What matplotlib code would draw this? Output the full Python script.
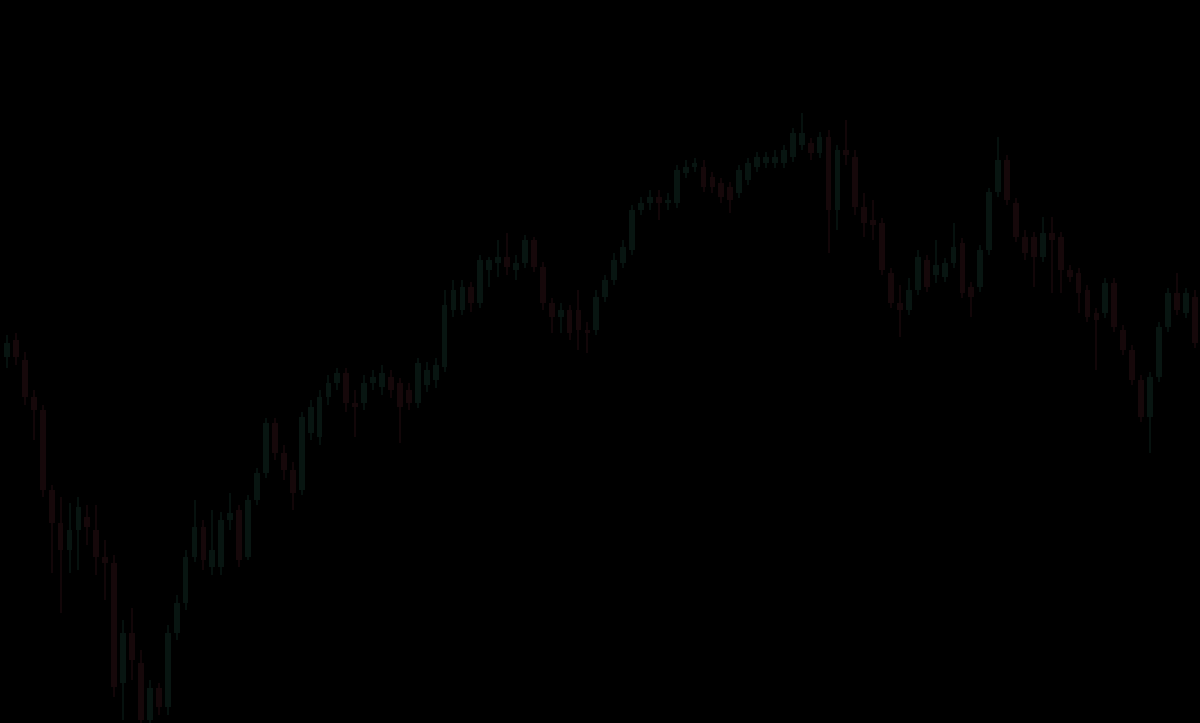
import numpy as np
import matplotlib
matplotlib.use("Agg")
import matplotlib.pyplot as plt

# OHLC series (arbitrary price units), one candle per session
opens = [443, 460, 440, 403, 390, 310, 277, 250, 270, 283, 270, 243, 237, 117, 167, 137, 80, 112, 93, 167,
         197, 243, 273, 233, 233, 280, 290, 243, 300, 327, 377, 347, 330, 310, 367, 363, 403, 417, 427, 397,
         397, 417, 413, 423, 417, 410, 397, 415, 420, 433, 490, 490, 513, 497, 530, 537, 543, 530, 537, 560,
         533, 497, 483, 490, 490, 470, 470, 503, 520, 537, 550, 590, 597, 603, 597, 597, 627, 633, 633, 623,
         617, 613, 607, 620, 633, 637, 637, 637, 643, 655, 657, 647, 663, 590, 650, 643, 593, 580, 577, 527,
         497, 490, 510, 540, 525, 523, 537, 557, 513, 513, 550, 608, 640, 597, 563, 563, 543, 567, 563, 530,
         527, 510, 487, 487, 517, 470, 450, 420, 383, 423, 473, 507, 487, 503]
highs = [465, 467, 448, 410, 395, 315, 303, 297, 303, 295, 295, 260, 245, 180, 192, 150, 120, 117, 175, 205,
         250, 300, 280, 290, 288, 307, 295, 305, 332, 382, 382, 355, 338, 388, 400, 410, 425, 432, 432, 410,
         425, 430, 435, 430, 422, 417, 442, 438, 442, 510, 520, 520, 518, 545, 543, 560, 567, 545, 565, 563,
         538, 502, 497, 495, 510, 478, 510, 525, 547, 560, 595, 603, 610, 610, 607, 635, 640, 642, 640, 628,
         622, 618, 635, 642, 648, 648, 650, 655, 672, 687, 662, 668, 670, 655, 680, 650, 607, 600, 582, 532,
         515, 522, 550, 545, 560, 542, 577, 562, 518, 555, 612, 663, 645, 602, 570, 568, 583, 583, 568, 535,
         532, 515, 492, 522, 522, 475, 455, 425, 428, 478, 512, 527, 512, 510]
lows = [432, 435, 395, 360, 303, 227, 187, 227, 230, 255, 225, 200, 103, 80, 120, 77, 77, 85, 85, 160,
        190, 238, 230, 225, 225, 270, 233, 240, 295, 322, 340, 320, 290, 305, 360, 355, 395, 410, 388, 363,
        390, 410, 405, 402, 357, 390, 392, 408, 412, 428, 483, 485, 488, 492, 513, 523, 525, 520, 532, 528,
        490, 467, 467, 460, 450, 447, 465, 498, 515, 532, 545, 585, 590, 580, 590, 592, 622, 628, 608, 607,
        597, 587, 602, 615, 628, 632, 632, 632, 638, 650, 640, 642, 547, 570, 635, 585, 563, 560, 525, 492,
        463, 485, 505, 508, 517, 518, 532, 502, 483, 508, 545, 603, 595, 558, 540, 513, 538, 507, 507, 518,
        487, 478, 430, 482, 468, 445, 415, 378, 347, 418, 468, 485, 482, 452]
closes = [457, 443, 403, 390, 310, 277, 250, 270, 293, 273, 243, 237, 113, 167, 140, 80, 112, 93, 167, 197,
          243, 273, 240, 250, 280, 287, 240, 300, 327, 377, 347, 330, 307, 383, 393, 403, 417, 427, 397, 393,
          417, 423, 427, 410, 393, 397, 437, 430, 435, 495, 510, 513, 497, 540, 540, 543, 533, 537, 560, 533,
          497, 483, 490, 467, 470, 467, 503, 520, 540, 553, 590, 597, 603, 597, 600, 630, 633, 637, 613, 613,
          603, 600, 630, 637, 643, 643, 643, 650, 667, 667, 647, 663, 590, 650, 645, 593, 577, 575, 530, 497,
          490, 510, 543, 513, 535, 537, 553, 507, 503, 550, 608, 640, 600, 563, 547, 543, 567, 560, 530, 523,
          507, 483, 480, 517, 473, 450, 420, 383, 423, 473, 507, 490, 507, 457]

o = np.array(opens); h = np.array(highs); l = np.array(lows); c = np.array(closes)
x = np.arange(len(c))
up = c >= o

up_col = '#081511'
dn_col = '#16080a'
cols = np.where(up, up_col, dn_col)

fig = plt.figure(figsize=(12, 7.23), dpi=100, facecolor='black')
ax = fig.add_axes([0, 0, 1, 1])
ax.set_facecolor('black')

# wicks
ax.vlines(x, l, h, colors=cols, lw=1.2)
# bodies
body = np.maximum(np.abs(c - o), 1.5)
ax.bar(x, body, bottom=np.minimum(o, c), width=0.65, color=cols, edgecolor=cols, lw=0)

ax.set_xlim(-0.784, 133.6)
ax.set_ylim(77, 800)
ax.axis('off')

fig.savefig('out.png', dpi=100, facecolor='black')
